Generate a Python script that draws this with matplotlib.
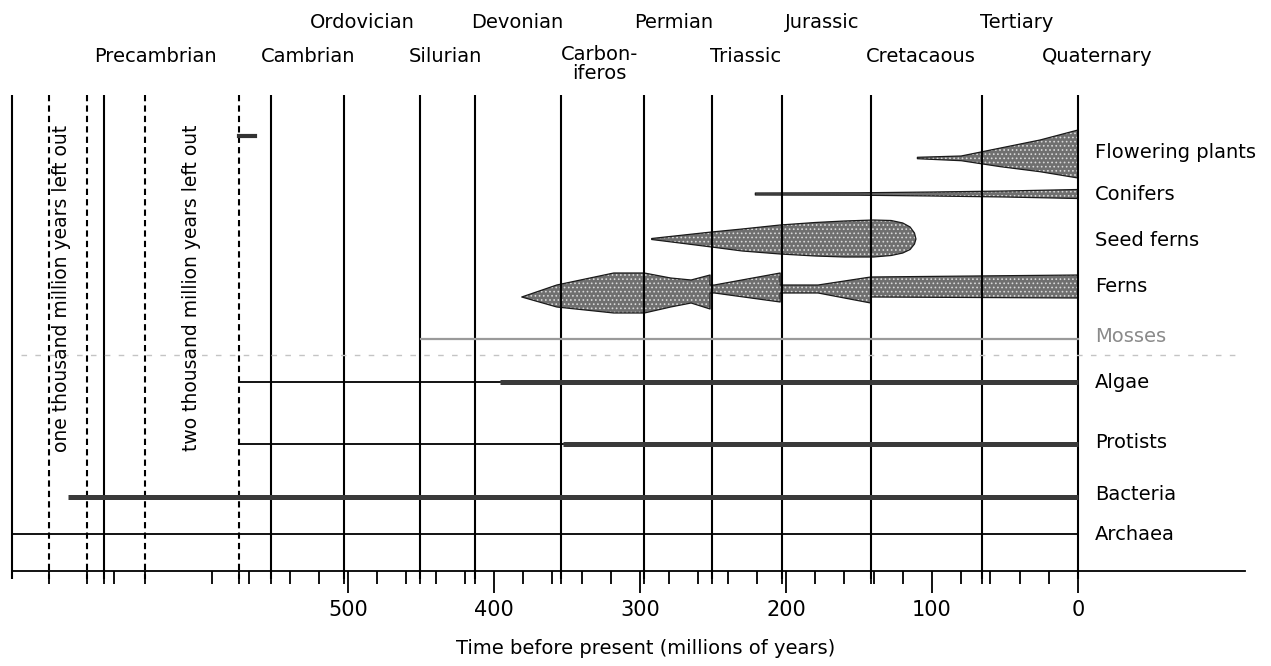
import numpy as np
import matplotlib.pyplot as plt

# ages in millions of years before present. Left of the Cambrian the
# original drawing uses a broken scale, so those values are positions on
# the chart's own compressed Precambrian scale.
period_names = ['Precambrian', 'Cambrian', 'Ordovician', 'Silurian', 'Devonian',
                'Carbon-\niferos', 'Permian', 'Triassic', 'Jurassic',
                'Cretacaous', 'Tertiary', 'Quaternary']
period_label_at = [632, 527, 490, 433, 384, 328, 277, 228, 175, 108, 42, -13]
period_label_row = [1, 1, 0, 1, 0, 1, 0, 1, 0, 1, 0, 1]
solid_bounds = [730, 667, 553, 503, 451, 413, 354, 297, 251, 203, 142, 66, 0]
dashed_bounds = [705, 679, 639, 575]
gap_notes = ['one thousand million years left out', 'two thousand million years left out']
gap_note_at = [696, 607]

groups = ['Flowering plants', 'Conifers', 'Seed ferns', 'Ferns', 'Mosses',
          'Algae', 'Protists', 'Bacteria', 'Archaea']

# plain lineages: (start, end)
archaea_span = (730, 0)
bacteria_span = (692, 0)
protists_early = (575, 353)
protists_late = (353, 0)
algae_early = (575, 396)
algae_late = (396, 0)
mosses_span = (450, 0)
cambrian_mark = (575, 564)

# spindle outlines: age, upper edge, lower edge (offset from lineage centre)
flower_age = [110, 80, 53, 26, 0]
flower_top = [-0.7, -2, -10, -18, -28]
flower_bot = [0.7, 2.7, 8.7, 13.7, 20]

conifer_age = [221, 150, 100, 50, 0]
conifer_top = [-1, -1.2, -2, -3, -4.5]
conifer_bot = [1, 1.2, 2, 3, 4.5]

seed_age = [292, 270, 251, 230, 204, 180, 160, 140, 128, 120, 115, 112, 111]
seed_top = [-0.5, -4, -7, -10, -14, -16.5, -18, -19, -18.5, -16, -12, -6, 0]
seed_bot = [0.5, 4.5, 8, 12, 15, 17, 18, 18, 16.5, 14, 10.5, 5, 0]

fern_age = [381, 357, 318, 297, 279, 265, 252, 252, 249, 204, 204, 178, 142, 142, 0]
fern_top = [9, -3, -15, -15, -10, -8, -13, -3, -3, -15, -3, -3, -11, -11, -13]
fern_bot = [9, 19, 25, 25, 19, 15, 21, 5, 5, 14, 5, 5, 15, 9, 10]

# layout
W, H = 1271, 666
ZERO_PX, PX_PER_MYR = 1078, 1.46
row_y = dict(zip(groups, [158, 194, 239, 288, 339, 382, 444, 497, 534]))
label_shift = dict(zip(groups, [-6, 0, 1, -2, -2, 1, -2, -3, 0]))
AXIS_Y = 571
TOP_Y = 95

plt.rcParams['font.family'] = ['DejaVu Sans']
plt.rcParams['hatch.linewidth'] = 0.7

fig = plt.figure(figsize=(W / 100, H / 100), dpi=100)
ax = fig.add_axes([0, 0, 1, 1])
ax.set_xlim(ZERO_PX / PX_PER_MYR, (ZERO_PX - W) / PX_PER_MYR)
ax.set_ylim(H, 0)
ax.axis('off')

# period boundaries
ax.vlines(solid_bounds, TOP_Y, AXIS_Y + 8, color='black', lw=1.5)
ax.vlines(dashed_bounds, TOP_Y, AXIS_Y + 8, color='black', lw=1.5,
          linestyles=(0, (3, 2)))

for name, x, r in zip(period_names, period_label_at, period_label_row):
    y = 22 if r == 0 else 57
    if '\n' in name:
        y = 64
    ax.text(x, y, name, ha='center', va='center', fontsize=14,
            linespacing=1.0)

for note, x in zip(gap_notes, gap_note_at):
    ax.text(x, 288, note, rotation=90, ha='center', va='center', fontsize=13.5)

# faint scanner streak through the mosses row
ax.hlines(row_y['Mosses'] + 16, 724, -110, color='#c4c4c4', lw=1,
          linestyles=(0, (4, 6)))

# thin lineages
thin = [(archaea_span, 'Archaea'), (protists_early, 'Protists'),
        (algae_early, 'Algae')]
for (a, b), g in thin:
    ax.plot([a, b], [row_y[g]] * 2, color='black', lw=1.3)
ax.plot(mosses_span, [row_y['Mosses']] * 2, color='#9a9a9a', lw=1.6)
ax.plot(cambrian_mark, [136, 136], color='#333333', lw=3)

# thick lineages
thick = [(bacteria_span, 'Bacteria'), (protists_late, 'Protists'),
         (algae_late, 'Algae')]
for (a, b), g in thick:
    ax.plot([a, b], [row_y[g]] * 2, color='#3a3a3a', lw=3.6,
            solid_capstyle='butt')

# spindles: dark stipple with light speckle, black outline
shapes = [(flower_age, flower_top, flower_bot, 'Flowering plants'),
          (conifer_age, conifer_top, conifer_bot, 'Conifers'),
          (seed_age, seed_top, seed_bot, 'Seed ferns'),
          (fern_age, fern_top, fern_bot, 'Ferns')]
for age, top, bot, g in shapes:
    c = row_y[g]
    y1 = c + np.array(top)
    y2 = c + np.array(bot)
    ax.fill_between(age, y1, y2, facecolor='#6f6f6f', edgecolor='#d8d8d8',
                    hatch='....', lw=0)
    ax.fill_between(age, y1, y2, facecolor='none', edgecolor='#1a1a1a', lw=0.9)

for g in groups:
    col = '#8a8a8a' if g == 'Mosses' else 'black'
    ax.text((ZERO_PX - 1095) / PX_PER_MYR, row_y[g] + label_shift[g], g,
            ha='left', va='center', fontsize=14, color=col)

# time axis
left_myr, right_myr = 730, (ZERO_PX - 1245) / PX_PER_MYR
left_px = ZERO_PX - left_myr * PX_PER_MYR
right_px = ZERO_PX - right_myr * PX_PER_MYR
axt = fig.add_axes([left_px / W, 1 - AXIS_Y / H, (right_px - left_px) / W, 1e-4])
axt.set_xlim(left_myr, right_myr)
axt.patch.set_visible(False)
for s in ['top', 'left', 'right']:
    axt.spines[s].set_visible(False)
axt.spines['bottom'].set_linewidth(1.3)
axt.set_yticks([])
major = [0, 100, 200, 300, 400, 500]
axt.set_xticks(major)
axt.set_xticklabels([str(m) for m in major], fontsize=15)
minor = [m for m in range(20, 560, 20) if m % 100] + solid_bounds[1:-1] + dashed_bounds \
    + [660, 593, 568]
axt.set_xticks(minor, minor=True)
axt.tick_params(axis='x', which='major', direction='out', length=16, width=1.3, pad=5)
axt.tick_params(axis='x', which='minor', direction='out', length=9, width=1.3)

ax.text((ZERO_PX - 646) / PX_PER_MYR, 648, 'Time before present (millions of years)',
        ha='center', va='center', fontsize=14)

fig.savefig('out.png', dpi=100)
